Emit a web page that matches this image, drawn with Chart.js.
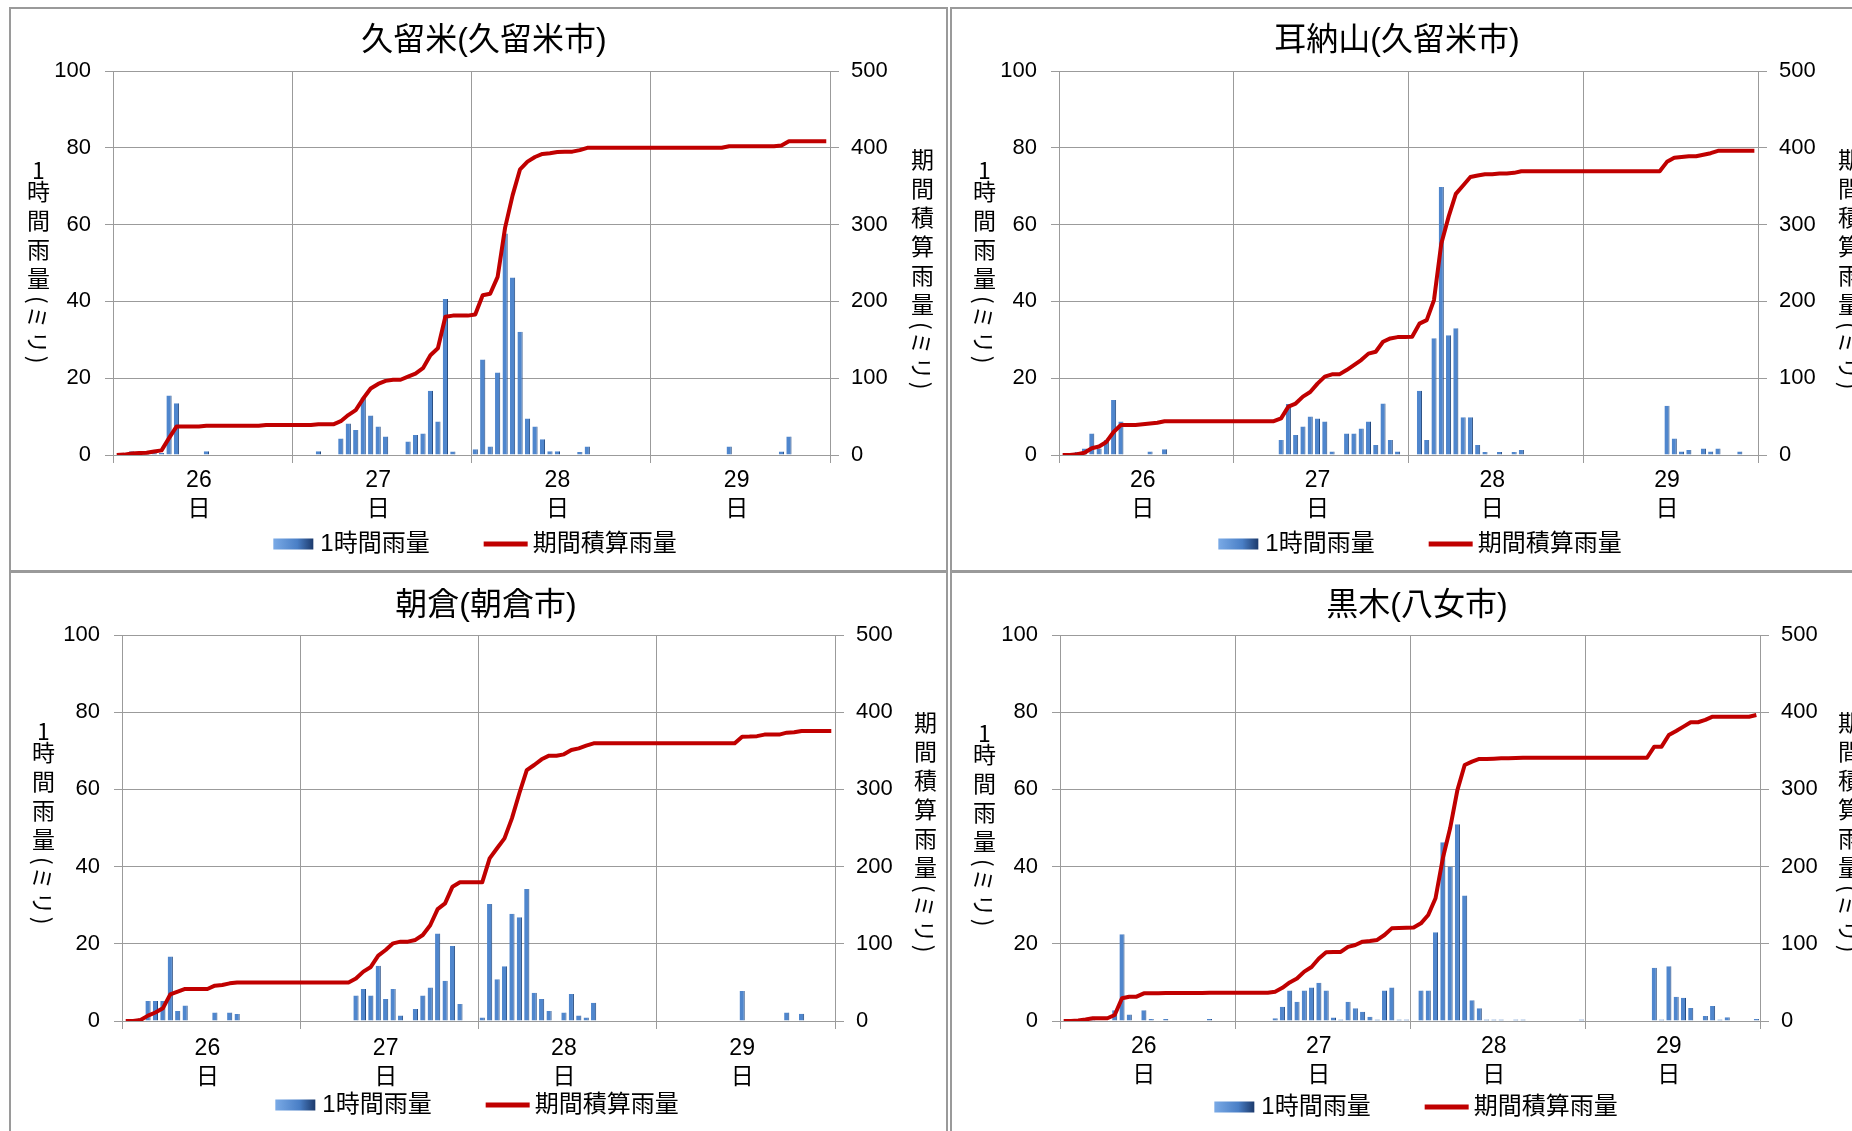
<!DOCTYPE html>
<html lang="ja">
<head>
<meta charset="utf-8">
<title>1時間雨量と期間積算雨量</title>
<script src="https://cdn.jsdelivr.net/npm/chart.js@4.4.1/dist/chart.umd.min.js"></script>
<style>
  html, body { margin: 0; padding: 0; width: 1852px; height: 1131px; overflow: hidden; background: #fff; }
  body { position: relative; font-family: "Liberation Sans", "Noto Sans CJK JP", sans-serif; color: #000; }
  .panel { position: absolute; border: 2px solid #9a9a9a; box-sizing: border-box; }
  canvas { position: absolute; }
  .title { position: absolute; font-size: 32px; line-height: 1; white-space: nowrap; transform: translate(-50%, -50%); }
  .vtitle { position: absolute; writing-mode: vertical-rl; font-family: "Noto Sans CJK JP", sans-serif;
            font-size: 23px; line-height: 1; letter-spacing: 6px; white-space: nowrap; transform: translateX(-50%); }
  .vtitle .up { text-combine-upright: all; }
  .vtitle .sw { text-orientation: sideways; letter-spacing: 2px; }
</style>
</head>
<body>
<script>
// --- Data ---
const DAY_TICKS = ['26', '27', '28', '29'];
const DAY_SUFFIX = '日';
const HOURS_PER_DAY = 24;
const BAR_LABEL = '1時間雨量';
const LINE_LABEL = '期間積算雨量';

// 久留米(久留米市) - hourly rain (mm), 26日..29日, 24 values per day
const KURUME_HOURLY = [
  0, 0, 1, 0, 0.5, 0.5, 0.5, 15.5, 13.5, 0, 0, 0, 1, 0, 0, 0, 0, 0, 0, 0, 0, 0, 0, 0,
  0, 0, 0, 1, 0, 0, 4.3, 8.2, 6.5, 15, 10.3, 7.4, 4.8, 0, 0, 3.5, 5.2, 5.6, 16.7, 8.7, 40.6, 0.9, 0, 0,
  1.5, 24.9, 2.2, 21.5, 57.7, 46.2, 32.1, 9.5, 7.4, 4.1, 1, 1, 0, 0, 0.8, 2.2, 0, 0, 0, 0, 0, 0, 0, 0,
  0, 0, 0, 0, 0, 0, 0, 0, 0, 0, 2.2, 0, 0, 0, 0, 0, 0, 0.9, 4.8, 0, 0, 0, 0, 0
];
const KURUME_TOTAL = [
  0, 0.5, 2, 2.5, 3, 4.5, 6, 22, 37, 37, 37, 37, 38, 38, 38, 38, 38, 38, 38, 38, 39, 39, 39, 39,
  39, 39, 39, 40, 40, 40, 44, 52, 58.5, 73.5, 86.5, 92.5, 96.5, 98, 98, 102, 106, 113, 130, 139, 180, 181.5, 181.5, 181.5,
  183, 208, 210, 232, 296, 338, 372, 382, 388, 392, 393, 394.5, 395, 395, 397, 400, 400, 400, 400, 400, 400, 400, 400, 400,
  400, 400, 400, 400, 400, 400, 400, 400, 400, 400, 402, 402, 402, 402, 402, 402, 402, 403, 408.5, 408.5, 408.5, 408.5, 408.5, 408.5
];

// 耳納山(久留米市)
const MINOU_HOURLY = [
  0, 0, 0.8, 1.7, 5.6, 1.7, 3.9, 14.3, 8.7, 0, 0, 0, 0.9, 0, 1.5, 0, 0, 0, 0, 0, 0, 0, 0, 0,
  0, 0, 0, 0, 0, 0, 3.9, 13.3, 5.2, 7.4, 10, 9.5, 8.7, 0.9, 0, 5.6, 5.6, 6.9, 8.7, 2.6, 13.4, 3.9, 0.9, 0,
  0, 16.7, 3.9, 30.4, 69.8, 31.2, 33, 9.8, 9.8, 2.6, 0.8, 0, 0.8, 0, 0.8, 1.3, 0, 0, 0, 0, 0, 0, 0, 0,
  0, 0, 0, 0, 0, 0, 0, 0, 0, 0, 0, 12.8, 4.3, 0.9, 1.3, 0, 1.7, 0.9, 1.7, 0, 0, 0.9, 0, 0
];
const MINOU_TOTAL = [
  0, 0, 1, 3, 8.7, 11, 17, 30, 39, 39, 39, 40, 41, 42, 44, 44, 44, 44, 44, 44, 44, 44, 44, 44,
  44, 44, 44, 44, 44, 44, 47.7, 63, 67, 76, 82, 93, 102, 105, 105, 110.6, 117, 123.6, 132, 134.4, 147.5, 151.8, 153.5, 153.5,
  154, 171, 175.6, 201.7, 275, 310, 340, 351, 362, 364, 365.6, 365.6, 366.5, 366.5, 367.4, 369.5, 369.5, 369.5, 369.5, 369.5, 369.5, 369.5, 369.5, 369.5,
  369.5, 369.5, 369.5, 369.5, 369.5, 369.5, 369.5, 369.5, 369.5, 369.5, 369.5, 381.7, 387, 388, 389, 389, 391, 393, 396, 396, 396, 396, 396, 396
];

// 朝倉(朝倉市)
const ASAKURA_HOURLY = [
  0, 0, 0.7, 5.2, 5.2, 5.2, 16.7, 2.6, 4, 0, 0, 0, 2.2, 0, 2.2, 1.8, 0, 0, 0, 0, 0, 0, 0, 0,
  0, 0, 0, 0, 0, 0, 0, 6.6, 8.3, 6.6, 14.3, 5.7, 8.3, 1.4, 0, 3.1, 6.6, 8.7, 22.7, 10.4, 19.4, 4.4, 0, 0,
  0.9, 30.3, 10.8, 14.2, 27.8, 26.9, 34.2, 7.3, 5.7, 2.6, 0, 2.2, 7, 1.4, 0.9, 4.7, 0, 0, 0, 0, 0, 0, 0, 0,
  0, 0, 0, 0, 0, 0, 0, 0, 0, 0, 0, 7.8, 0, 0, 0, 0, 0, 2.2, 0, 1.9, 0, 0, 0, 0
];
const ASAKURA_TOTAL = [
  0, 0, 1.3, 7, 11, 16.4, 34.5, 38, 41.5, 41.5, 41.5, 41.5, 45.8, 46.6, 48.8, 50, 50, 50, 50, 50, 50, 50, 50, 50,
  50, 50, 50, 50, 50, 50, 50, 55, 64, 70, 84.6, 92, 100.6, 102.8, 102.8, 105, 111.4, 124, 145, 152.4, 174, 179.6, 179.6, 179.6,
  179.6, 210.7, 223.7, 236.6, 262.5, 295, 325, 331.6, 339, 343.7, 343.7, 345.4, 351, 353.2, 356.7, 359.7, 359.7, 359.7, 359.7, 359.7, 359.7, 359.7, 359.7, 359.7,
  359.7, 359.7, 359.7, 359.7, 359.7, 359.7, 359.7, 359.7, 359.7, 359.7, 359.7, 368.3, 368.5, 369, 371, 371, 371, 373.5, 374, 375.7, 375.7, 375.7, 375.7, 375.7
];

// 黒木(八女市)
const KUROKI_HOURLY = [
  0, 0, 0, 0, 1.1, 0, 0, 2.8, 22.5, 1.7, 0, 2.8, 0.5, 0, 0.5, 0, 0, 0, 0, 0, 0.5, 0, 0, 0,
  0, 0, 0, 0, 0, 0.7, 3.7, 7.9, 5, 7.9, 8.7, 9.9, 7.9, 0.9, 0.4, 5, 3.3, 2.4, 1.1, 0.4, 7.9, 8.7, 0.4, 0.4,
  0, 7.9, 7.9, 23, 46.3, 40, 51, 32.5, 5.4, 3.3, 0.4, 0.4, 0.4, 0, 0.4, 0.4, 0, 0, 0, 0, 0, 0, 0, 0.4,
  0, 0, 0, 0, 0, 0, 0, 0, 0, 13.8, 0.4, 14.2, 6.3, 6, 3.4, 0, 1.3, 3.9, 0.4, 1, 0, 0, 0, 0.5
];
const KUROKI_TOTAL = [
  0, 0, 0.8, 2, 3.5, 3.5, 3.5, 7.8, 29.4, 31.5, 31.5, 35.8, 35.8, 35.8, 36.2, 36.2, 36.2, 36.2, 36.2, 36.2, 36.6, 36.6, 36.6, 36.6,
  36.6, 36.6, 36.6, 36.6, 36.6, 38, 43, 50, 55, 64, 70, 81, 89, 89.5, 89.5, 96, 98.5, 102.8, 103.5, 105, 111.4, 120, 120.4, 120.8,
  121, 126.5, 137.3, 159, 210.7, 249.6, 299, 331.6, 336, 339.4, 339.4, 339.8, 340.2, 340.2, 340.6, 341, 341, 341, 341, 341, 341, 341, 341, 341,
  341, 341, 341, 341, 341, 341, 341, 341, 341, 355.4, 355.4, 370.5, 375.7, 381.3, 387, 387, 390, 394.2, 394.2, 394.2, 394.2, 394.2, 394.2, 396.4
];

// --- Layout (page pixels) ---
const GRID = '#9b9b9b';
const BAR_FILL = '#4f86cd';
const BAR_EDGE = '#22487e';
const LINE_RED = '#c00000';
const FONT = '"Liberation Sans", "Noto Sans CJK JP", sans-serif';
const X_AXIS_H = 74;
const LABEL_AT = 11.5;   // hour position of the day label inside each day band

const PANELS = [
  { title: '久留米(久留米市)', hourly: KURUME_HOURLY, total: KURUME_TOTAL,
    box: { x: 9, y: 7, w: 939, h: 565 }, canvas: { x: 10, y: 8, w: 937, h: 562 },
    plot: { l: 113, r: 830, t: 71, b: 455 }, tickY: 481, legend: [475, 544],
    titleAt: [484, 39], leftT: [38, 157], rightT: [922, 148] },
  { title: '耳納山(久留米市)', hourly: MINOU_HOURLY, total: MINOU_TOTAL,
    box: { x: 950, y: 7, w: 940, h: 565 }, canvas: { x: 951, y: 8, w: 937, h: 562 },
    plot: { l: 1059, r: 1758, t: 71, b: 455 }, tickY: 481, legend: [1420, 544],
    titleAt: [1397, 39], leftT: [984, 157], rightT: [1849, 148] },
  { title: '朝倉(朝倉市)', hourly: ASAKURA_HOURLY, total: ASAKURA_TOTAL,
    box: { x: 9, y: 571, w: 939, h: 580 }, canvas: { x: 10, y: 573, w: 937, h: 562 },
    plot: { l: 122, r: 835, t: 635, b: 1021 }, tickY: 1049, legend: [477, 1105],
    titleAt: [486, 604], leftT: [43, 718], rightT: [925, 711] },
  { title: '黒木(八女市)', hourly: KUROKI_HOURLY, total: KUROKI_TOTAL,
    box: { x: 950, y: 571, w: 940, h: 580 }, canvas: { x: 951, y: 573, w: 937, h: 562 },
    plot: { l: 1060, r: 1760, t: 635, b: 1021 }, tickY: 1047, legend: [1416, 1107],
    titleAt: [1417, 604], leftT: [984, 720], rightT: [1849, 711] }
];

Chart.defaults.font.family = FONT;
Chart.defaults.color = '#000';

// Excel-style legend under the day labels: gradient bar swatch + thick red line
const rainLegend = {
    id: 'rainLegend',
    afterDraw(chart, args, opts) {
        const ctx = chart.ctx;
        ctx.save();
        ctx.font = '24px ' + FONT;
        ctx.textBaseline = 'middle';
        ctx.textAlign = 'left';
        const w1 = ctx.measureText(BAR_LABEL).width;
        const w2 = ctx.measureText(LINE_LABEL).width;
        const total = 40 + 7 + w1 + 54 + 44 + 5 + w2;
        let x = opts.cx - total / 2;
        const y = opts.cy;

        const g = ctx.createLinearGradient(x, 0, x + 40, 0);
        g.addColorStop(0, '#7aaae6');
        g.addColorStop(0.6, '#4a7fc6');
        g.addColorStop(1, '#1c3a6c');
        ctx.fillStyle = g;
        ctx.fillRect(x, y - 5.5, 40, 11);
        x += 47;
        ctx.fillStyle = '#000';
        ctx.fillText(BAR_LABEL, x, y);

        x += w1 + 54;
        ctx.strokeStyle = LINE_RED;
        ctx.lineWidth = 5;
        ctx.beginPath();
        ctx.moveTo(x, y);
        ctx.lineTo(x + 44, y);
        ctx.stroke();
        x += 49;
        ctx.fillText(LINE_LABEL, x, y);
        ctx.restore();
    }
};

function place(el, x, y, w, h) {
    el.style.left = x + 'px';
    el.style.top = y + 'px';
    if (w !== undefined) el.style.width = w + 'px';
    if (h !== undefined) el.style.height = h + 'px';
}

function isDayEdge(ctx) {
    return ctx.tick && ctx.tick.value % HOURS_PER_DAY === 0;
}

function drawPanel(p) {
    const box = document.createElement('div');
    box.className = 'panel';
    place(box, p.box.x, p.box.y, p.box.w, p.box.h);
    document.body.appendChild(box);

    const cv = document.createElement('canvas');
    cv.width = p.canvas.w;
    cv.height = p.canvas.h;
    place(cv, p.canvas.x, p.canvas.y, p.canvas.w, p.canvas.h);
    document.body.appendChild(cv);

    const title = document.createElement('div');
    title.className = 'title';
    title.textContent = p.title;
    place(title, p.titleAt[0], p.titleAt[1]);
    document.body.appendChild(title);

    const lt = document.createElement('div');
    lt.className = 'vtitle';
    lt.innerHTML = '<span class="up">1</span>時間雨量<span class="sw">(ミリ)</span>';
    place(lt, p.leftT[0], p.leftT[1]);
    document.body.appendChild(lt);

    const rt = document.createElement('div');
    rt.className = 'vtitle';
    rt.innerHTML = '期間積算雨量<span class="sw">(ミリ)</span>';
    place(rt, p.rightT[0], p.rightT[1]);
    document.body.appendChild(rt);

    // sizes of the boxes around the plot area
    const leftW = p.plot.l - p.canvas.x;
    const rightW = p.canvas.x + p.canvas.w - p.plot.r;
    const bottomPad = p.canvas.y + p.canvas.h - (p.plot.b + X_AXIS_H);
    const tickPad = Math.max(0, p.tickY - p.plot.b - 8 - 23 * 1.25 / 2);

    new Chart(cv, {
        type: 'bar',
        data: {
            datasets: [
                {
                    type: 'line', label: LINE_LABEL, yAxisID: 'y2', order: 1,
                    data: p.total.map((v, i) => ({ x: i + 0.5, y: v })),
                    borderColor: LINE_RED, borderWidth: 4, pointRadius: 0, tension: 0,
                    fill: false, borderJoinStyle: 'round'
                },
                {
                    type: 'bar', label: BAR_LABEL, yAxisID: 'y', order: 2,
                    data: p.hourly.map((v, i) => ({ x: i + 0.5, y: v })),
                    backgroundColor: BAR_FILL, borderColor: BAR_EDGE,
                    borderWidth: { top: 0, right: 1, bottom: 0, left: 0 },
                    barPercentage: 0.7, categoryPercentage: 1
                }
            ]
        },
        options: {
            responsive: false,
            animation: false,
            layout: { padding: { top: p.plot.t - p.canvas.y, left: 0, right: 0, bottom: bottomPad } },
            scales: {
                x: {
                    type: 'linear', min: 0, max: DAY_TICKS.length * HOURS_PER_DAY, offset: false,
                    grid: {
                        offset: false, tickLength: 8, lineWidth: 1,
                        color: c => isDayEdge(c) ? GRID : 'rgba(0,0,0,0)',
                        tickColor: c => isDayEdge(c) ? GRID : 'rgba(0,0,0,0)'
                    },
                    border: { display: true, color: GRID },
                    afterBuildTicks: s => {
                        const ticks = [];
                        DAY_TICKS.forEach((d, i) => {
                            ticks.push({ value: i * HOURS_PER_DAY });
                            ticks.push({ value: i * HOURS_PER_DAY + LABEL_AT });
                        });
                        ticks.push({ value: DAY_TICKS.length * HOURS_PER_DAY });
                        s.ticks = ticks;
                    },
                    ticks: {
                        autoSkip: false, maxRotation: 0, minRotation: 0,
                        padding: tickPad, color: '#000', font: { size: 23, lineHeight: 1.25 },
                        callback: v => (v % HOURS_PER_DAY === LABEL_AT)
                            ? [DAY_TICKS[Math.floor(v / HOURS_PER_DAY)], DAY_SUFFIX] : ''
                    },
                    afterFit: s => { s.height = X_AXIS_H; }
                },
                y: {
                    position: 'left', min: 0, max: 100,
                    grid: { color: GRID, tickLength: 8 },
                    border: { color: GRID },
                    ticks: { stepSize: 20, padding: 14, color: '#000', font: { size: 22 } },
                    afterFit: s => { s.width = leftW; }
                },
                y2: {
                    position: 'right', min: 0, max: 500,
                    grid: { drawOnChartArea: false, color: GRID, tickLength: 9 },
                    border: { color: GRID },
                    ticks: { stepSize: 100, padding: 12, color: '#000', font: { size: 22 } },
                    afterFit: s => { s.width = rightW; }
                }
            },
            plugins: {
                title: { display: false },
                tooltip: { enabled: false },
                legend: { display: false },
                rainLegend: { cx: p.legend[0] - p.canvas.x, cy: p.legend[1] - p.canvas.y }
            }
        },
        plugins: [rainLegend]
    });
}

PANELS.forEach(drawPanel);
</script>
</body>
</html>
